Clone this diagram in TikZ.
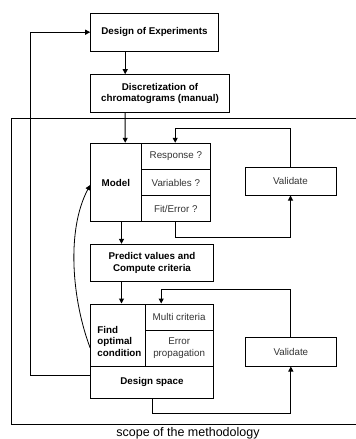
\documentclass[tikz,border=0pt]{standalone}
\usepackage{fontspec}
\setmainfont{Liberation Sans}
\usetikzlibrary{arrows.meta}
\begin{document}
\begin{tikzpicture}[x=1pt,y=-1pt,
  box/.style={draw, line width=1pt, rectangle, inner sep=0pt, align=center, font=\fontsize{9.8}{11.5}\selectfont\bfseries},
  cell/.style={draw, line width=1pt, rectangle, inner sep=0pt, align=center, font=\fontsize{9.8}{11.5}\selectfont, text=black!80},
  arr/.style={line width=1pt, -{Triangle[length=5pt,width=5pt]}},
  ln/.style={line width=1pt}]
\useasboundingbox (0,0) rectangle (356,439);
% scope rectangle
\draw[ln] (360,118.3) -- (11.7,118.3) -- (11.7,424) -- (360,424);
\node[font=\fontsize{12.5}{14}\selectfont] (scope) at (188,433.5) {scope of the methodology};
% nodes
\node[box, minimum width=127.6pt, minimum height=37.7pt] (doe) at (154.5,32.2) {Design of Experiments};
\node[box, minimum width=138.6pt, minimum height=38pt] (disc) at (160,93.7) {Discretization of\\chromatograms (manual)};
\node[box, minimum width=50.3pt, minimum height=78.4pt] (modelL) at (115.85,182.5) {Model};
\node[cell, minimum width=69.7pt, minimum height=26pt] (resp) at (175.85,156.3) {Response ?};
\node[cell, minimum width=69.7pt, minimum height=26.4pt] (var) at (175.85,182.5) {Variables ?};
\node[cell, minimum width=69.7pt, minimum height=26pt] (fit) at (175.85,208.7) {Fit/Error ?};
\node[cell, minimum width=91pt, minimum height=27.7pt] (val1) at (290.5,181.15) {Validate};
\node[box, minimum width=122.6pt, minimum height=37.4pt] (pred) at (152,263) {Predict values and\\Compute criteria};
\node[box, minimum width=54.3pt, minimum height=62pt, align=left, text width=41pt] (find) at (117.85,335) {\rule{0pt}{20pt}Find\\optimal\\condition};
\node[cell, minimum width=68.3pt, minimum height=26pt] (multi) at (179.15,317) {Multi criteria};
\node[cell, minimum width=68.3pt, minimum height=36pt] (errp) at (179.15,348) {Error\\propagation};
\node[box, minimum width=122.6pt, minimum height=32.3pt] (ds) at (152,382.15) {Design space};
\node[cell, minimum width=90.3pt, minimum height=28.3pt] (val2) at (290.85,351.85) {Validate};
% connectors
\draw[arr] ([xshift=35pt]doe.south west) -- ([xshift=35pt]disc.north west);
\draw[arr] ([xshift=35pt]disc.south west) -- ([xshift=35pt]modelL.north west);
\draw[arr] (val1.north) |- ([xshift=34.7pt,yshift=14pt]resp.north west) -- ([xshift=34.7pt]resp.north west);
\draw[arr] ([xshift=34.7pt]fit.south west) |- ([yshift=-41.7pt]val1.south) -- (val1.south);
\draw[arr] ([xshift=31.3pt]modelL.south west) -- ([xshift=31.3pt]pred.north west);
\draw[arr] ([xshift=31.3pt]pred.south west) -- ([xshift=31.3pt]find.north west);
\draw[arr] (val2.north) |- ([xshift=16.7pt,yshift=14pt]multi.north west) -- ([xshift=16.7pt]multi.north west);
\draw[arr] ([xshift=62pt]ds.south west) |- ([yshift=-46.7pt]val2.south) -- (val2.south);
\draw[arr] ([yshift=6.3pt]ds.west) -- ++(-60pt,0) |- (doe.west);
\draw[arr, line width=0.8pt] ([yshift=-13pt]find.west) .. controls (72,300) and (66,230) .. ([yshift=-2.5pt]modelL.west);
\end{tikzpicture}
\end{document}
